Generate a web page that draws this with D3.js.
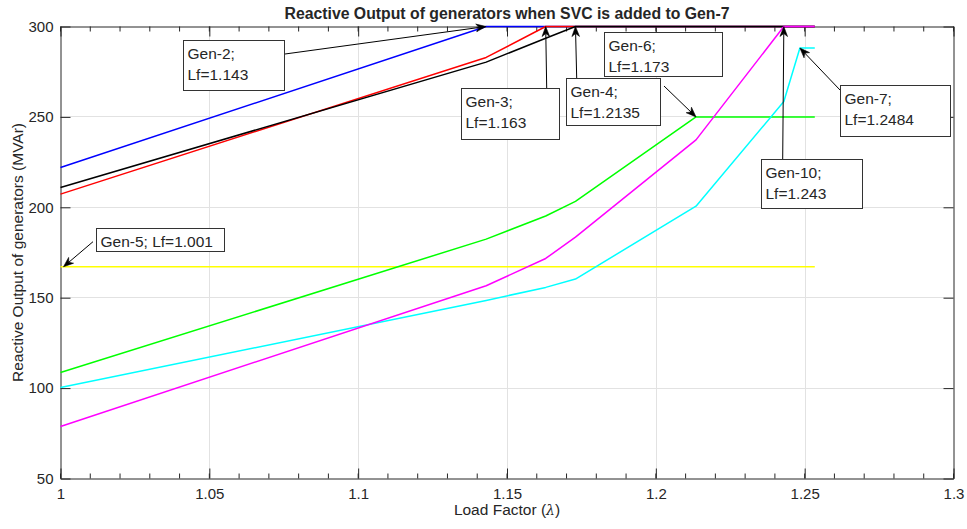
<!DOCTYPE html>
<html>
<head>
<meta charset="utf-8">
<script src="https://cdn.jsdelivr.net/npm/d3@7"></script>
<style>
  html, body { margin: 0; padding: 0; background: #ffffff; }
  svg { display: block; }
  text { font-family: "Liberation Sans", Arial, Helvetica, sans-serif; fill: #262626; }
</style>
</head>
<body>
<svg id="chart" width="967" height="529"></svg>
<script>
// Load factor steps at which generator limits are reached
const lambda = [1, 1.143, 1.163, 1.173, 1.2135, 1.243, 1.2484, 1.2534];

// Reactive output (MVAr) of each generator at those load factors
const gen2  = [222.0, 300.0, 300.0, 300.0, 300.0, 300.0, 300.0, 300.0];
const gen3  = [207.3, 282.9, 300.0, 300.0, 300.0, 300.0, 300.0, 300.0];
const gen4  = [211.0, 280.3, 293.5, 300.0, 300.0, 300.0, 300.0, 300.0];
const gen5  = [167.1, 167.1, 167.1, 167.1, 167.1, 167.1, 167.1, 167.1];
const gen6  = [108.6, 182.4, 195.2, 203.3, 250.0, 250.0, 250.0, 250.0];
const gen7  = [100.3, 148.5, 155.7, 160.3, 200.6, 258.5, 288.1, 288.1];
const gen10 = [78.8, 156.6, 171.7, 183.5, 237.3, 300.0, 300.0, 300.0];

// Axis ticks
const xTicks = [1, 1.05, 1.1, 1.15, 1.2, 1.25, 1.3];
const xTickLabels = ["1", "1.05", "1.1", "1.15", "1.2", "1.25", "1.3"];
const xMinorTicks = d3.range(1, 1.3001, 0.01);
const yTicks = [50, 100, 150, 200, 250, 300];
const yTickLabels = ["50", "100", "150", "200", "250", "300"];

// Callouts: label lines, the point they mark (load factor, MVAr)
const calloutText = [
  ["Gen-2;", "Lf=1.143"],
  ["Gen-3;", "Lf=1.163"],
  ["Gen-4;", "Lf=1.2135"],
  ["Gen-6;", "Lf=1.173"],
  ["Gen-7;", "Lf=1.2484"],
  ["Gen-10;", "Lf=1.243"],
  ["Gen-5; Lf=1.001"]
];
const calloutLf  = [1.143, 1.163, 1.173, 1.2135, 1.2484, 1.243, 1.001];
const calloutVal = [300, 300, 300, 250, 288.1, 300, 167.1];

// ---- layout ----
const svg = d3.select("#chart");
const plot = { left: 60.5, right: 953.5, top: 26.5, bottom: 478.5 };

const x = d3.scaleLinear().domain([1, 1.3]).range([plot.left, plot.right]);
const y = d3.scaleLinear().domain([50, 300]).range([plot.bottom, plot.top]);

const axisColor = "#262626";
const gridColor = "#e2e2e2";

// grid
const grid = svg.append("g");
grid.selectAll("line.gx").data(xTicks.slice(1, -1)).join("line")
  .attr("x1", d => Math.round(x(d)) + 0.5).attr("x2", d => Math.round(x(d)) + 0.5)
  .attr("y1", plot.top).attr("y2", plot.bottom)
  .attr("stroke", gridColor).attr("stroke-width", 1);
grid.selectAll("line.gy").data(yTicks.slice(1, -1)).join("line")
  .attr("x1", plot.left).attr("x2", plot.right)
  .attr("y1", d => Math.round(y(d) - 0.5) + 0.5).attr("y2", d => Math.round(y(d) - 0.5) + 0.5)
  .attr("stroke", gridColor).attr("stroke-width", 1);

// axes (bottom/left with labels, top/right mirrored ticks)
const bottomAxis = d3.axisBottom(x).tickValues(xTicks)
  .tickFormat((d, i) => xTickLabels[i]).tickSizeInner(-10).tickSizeOuter(0).tickPadding(10);
const topAxis = d3.axisTop(x).tickValues(xTicks).tickFormat("").tickSizeInner(-10).tickSizeOuter(0);
const leftAxis = d3.axisLeft(y).tickValues(yTicks)
  .tickFormat((d, i) => yTickLabels[i]).tickSizeInner(-10).tickSizeOuter(0).tickPadding(7);
const rightAxis = d3.axisRight(y).tickValues(yTicks).tickFormat("").tickSizeInner(-10).tickSizeOuter(0);

function styleAxis(g) {
  g.select(".domain").attr("stroke", axisColor).attr("stroke-width", 1);
  g.selectAll(".tick line").attr("stroke", axisColor).attr("stroke-width", 1);
  g.selectAll(".tick text").attr("fill", axisColor)
    .style("font-family", "'Liberation Sans', Arial, Helvetica, sans-serif")
    .style("font-size", "15px");
}

svg.append("g").attr("transform", `translate(0,${plot.bottom})`).call(bottomAxis).call(styleAxis);
svg.append("g").attr("transform", `translate(0,${plot.top})`).call(topAxis).call(styleAxis);
svg.append("g").attr("transform", `translate(${plot.left},0)`).call(leftAxis).call(styleAxis);
svg.append("g").attr("transform", `translate(${plot.right},0)`).call(rightAxis).call(styleAxis);

// minor x ticks on bottom and top
const minor = svg.append("g");
minor.selectAll("line.mb").data(xMinorTicks).join("line")
  .attr("x1", d => x(d)).attr("x2", d => x(d))
  .attr("y1", plot.bottom).attr("y2", plot.bottom - 5)
  .attr("stroke", axisColor).attr("stroke-width", 1);
minor.selectAll("line.mt").data(xMinorTicks).join("line")
  .attr("x1", d => x(d)).attr("x2", d => x(d))
  .attr("y1", plot.top).attr("y2", plot.top + 5)
  .attr("stroke", axisColor).attr("stroke-width", 1);

// series
const series = [
  { values: gen2,  color: "#0000ff" },
  { values: gen3,  color: "#ff0000" },
  { values: gen4,  color: "#000000" },
  { values: gen5,  color: "#ffff00" },
  { values: gen6,  color: "#00ff00" },
  { values: gen7,  color: "#00ffff" },
  { values: gen10, color: "#ff00ff" }
];

const line = d3.line().x(d => x(d[0])).y(d => y(d[1]));

svg.append("g").selectAll("path").data(series).join("path")
  .attr("d", s => line(lambda.map((l, i) => [l, s.values[i]])))
  .attr("fill", "none")
  .attr("stroke", s => s.color)
  .attr("stroke-width", 1.5)
  .attr("stroke-linejoin", "round");

// title and axis labels
svg.append("text")
  .attr("x", (plot.left + plot.right) / 2).attr("y", 19)
  .attr("text-anchor", "middle")
  .style("font-size", "15.8px").style("font-weight", "bold")
  .attr("fill", "#000")
  .text("Reactive Output of generators when SVC is added to Gen-7");

const xl = svg.append("text")
  .attr("x", (plot.left + plot.right) / 2).attr("y", 515)
  .attr("text-anchor", "middle")
  .style("font-size", "15.5px");
xl.append("tspan").text("Load Factor (");
xl.append("tspan").style("font-style", "italic").style("font-family", "'DejaVu Serif', serif").style("font-size", "14px").text("λ");
xl.append("tspan").text(")");

svg.append("text")
  .attr("transform", `translate(23,${(plot.top + plot.bottom) / 2}) rotate(-90)`)
  .attr("text-anchor", "middle")
  .style("font-size", "15.5px")
  .text("Reactive Output of generators (MVAr)");

// callout boxes: [left, top, width, height] and arrow tail point
const boxLayout = [
  { box: [183, 40, 101, 50],  tail: [285, 54] },
  { box: [461, 88, 98, 51],   tail: [546.7, 88] },
  { box: [566, 78, 94, 47],   tail: [576.7, 78] },
  { box: [604, 32, 118, 44],  tail: [664, 86] },
  { box: [840, 85, 110, 51],  tail: [840, 90] },
  { box: [761, 159, 101, 49], tail: [782.7, 159] },
  { box: [96, 228, 128, 23],  tail: [93, 241.7] }
];

const callouts = svg.append("g");

// arrows
calloutText.forEach((t, i) => {
  const tip = [x(calloutLf[i]), y(calloutVal[i])];
  const tail = boxLayout[i].tail;
  const ang = Math.atan2(tip[1] - tail[1], tip[0] - tail[0]);
  const len = 10, half = 3.8, notch = 7;
  const ca = Math.cos(ang), sa = Math.sin(ang);
  const pt = (a, b) => [tip[0] + a * ca - b * sa, tip[1] + a * sa + b * ca];
  const back = pt(-notch, 0);
  callouts.append("line")
    .attr("x1", tail[0]).attr("y1", tail[1])
    .attr("x2", back[0]).attr("y2", back[1])
    .attr("stroke", "#000").attr("stroke-width", 1);
  const head = [tip, pt(-len, half), back, pt(-len, -half)];
  callouts.append("path")
    .attr("d", "M" + head.map(p => p.join(",")).join("L") + "Z")
    .attr("fill", "#000").attr("stroke", "#000").attr("stroke-width", 0.6);
});

// boxes with text
calloutText.forEach((t, i) => {
  const [bx, by, bw, bh] = boxLayout[i].box;
  callouts.append("rect")
    .attr("x", bx + 0.5).attr("y", by + 0.5).attr("width", bw).attr("height", bh)
    .attr("fill", "#fff").attr("stroke", "#333").attr("stroke-width", 1);
  t.forEach((s, j) => {
    callouts.append("text")
      .attr("x", bx + 4.5).attr("y", by + 19 + j * 20.8)
      .style("font-size", "15.5px").attr("fill", "#000")
      .text(s);
  });
});
</script>
</body>
</html>
